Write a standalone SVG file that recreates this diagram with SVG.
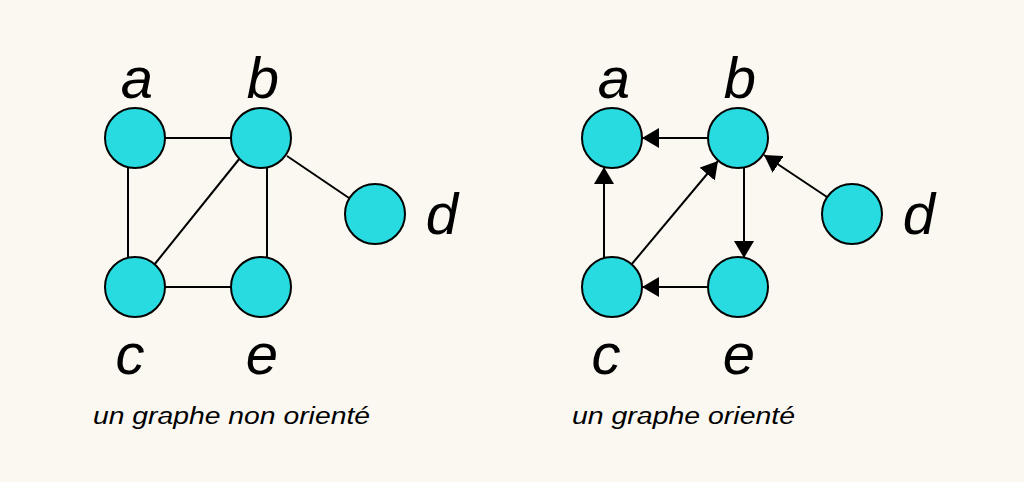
<svg xmlns="http://www.w3.org/2000/svg" width="1024" height="482" viewBox="0 0 1024 482">
<style>
.node{fill:#28dbe0;stroke:#000;stroke-width:2}
.edge{stroke:#000;stroke-width:2;fill:none}
.lbl{font-family:"Liberation Sans",Arial,sans-serif;font-style:italic;font-size:58px;fill:#000;text-anchor:middle}
.cap{font-family:"Liberation Sans",Arial,sans-serif;font-style:italic;font-size:23px;fill:#000}
</style>
<defs>
<marker id="arr" viewBox="0 0 17 20" markerWidth="17" markerHeight="20" refX="17" refY="10" orient="auto" markerUnits="userSpaceOnUse">
<path d="M0,0 L17,10 L0,20 z" fill="#000"/>
</marker>
</defs>
<rect width="1024" height="482" fill="#fbf8f2"/>
<g id="edges-left">
<line class="edge" x1="165" y1="138" x2="231" y2="138"/>
<line class="edge" x1="128" y1="168" x2="128" y2="258"/>
<line class="edge" x1="154" y1="265" x2="240" y2="158"/>
<line class="edge" x1="267" y1="168" x2="267" y2="258"/>
<line class="edge" x1="165" y1="287" x2="231" y2="287"/>
<line class="edge" x1="287" y1="156" x2="349" y2="198"/>
</g>
<g id="edges-right">
<line class="edge" x1="708" y1="138" x2="642" y2="138" marker-end="url(#arr)"/>
<line class="edge" x1="604" y1="258" x2="604" y2="167" marker-end="url(#arr)"/>
<line class="edge" x1="631" y1="265" x2="718" y2="161" marker-end="url(#arr)"/>
<line class="edge" x1="744" y1="168" x2="744" y2="258" marker-end="url(#arr)"/>
<line class="edge" x1="708" y1="287" x2="642" y2="287" marker-end="url(#arr)"/>
<line class="edge" x1="827" y1="197" x2="764" y2="155" marker-end="url(#arr)"/>
</g>
<g id="left-a"><circle class="node" cx="135" cy="138" r="30"/><text class="lbl" x="137" y="98">a</text></g>
<g id="left-b"><circle class="node" cx="261" cy="138" r="30"/><text class="lbl" x="263" y="98">b</text></g>
<g id="left-c"><circle class="node" cx="135" cy="287" r="30"/><text class="lbl" x="130" y="374">c</text></g>
<g id="left-e"><circle class="node" cx="261" cy="287" r="30"/><text class="lbl" x="262" y="374">e</text></g>
<g id="left-d"><circle class="node" cx="375" cy="214" r="30"/><text class="lbl" x="442" y="234">d</text></g>
<g id="right-a"><circle class="node" cx="612" cy="138" r="30"/><text class="lbl" x="614" y="98">a</text></g>
<g id="right-b"><circle class="node" cx="738" cy="138" r="30"/><text class="lbl" x="740" y="98">b</text></g>
<g id="right-c"><circle class="node" cx="612" cy="287" r="30"/><text class="lbl" x="606" y="374">c</text></g>
<g id="right-e"><circle class="node" cx="738" cy="287" r="30"/><text class="lbl" x="739" y="374">e</text></g>
<g id="right-d"><circle class="node" cx="852" cy="214" r="30"/><text class="lbl" x="919" y="234">d</text></g>
<text class="cap" x="93" y="424" textLength="277" lengthAdjust="spacingAndGlyphs">un graphe non orienté</text>
<text class="cap" x="572" y="424" textLength="223" lengthAdjust="spacingAndGlyphs">un graphe orienté</text>
</svg>
